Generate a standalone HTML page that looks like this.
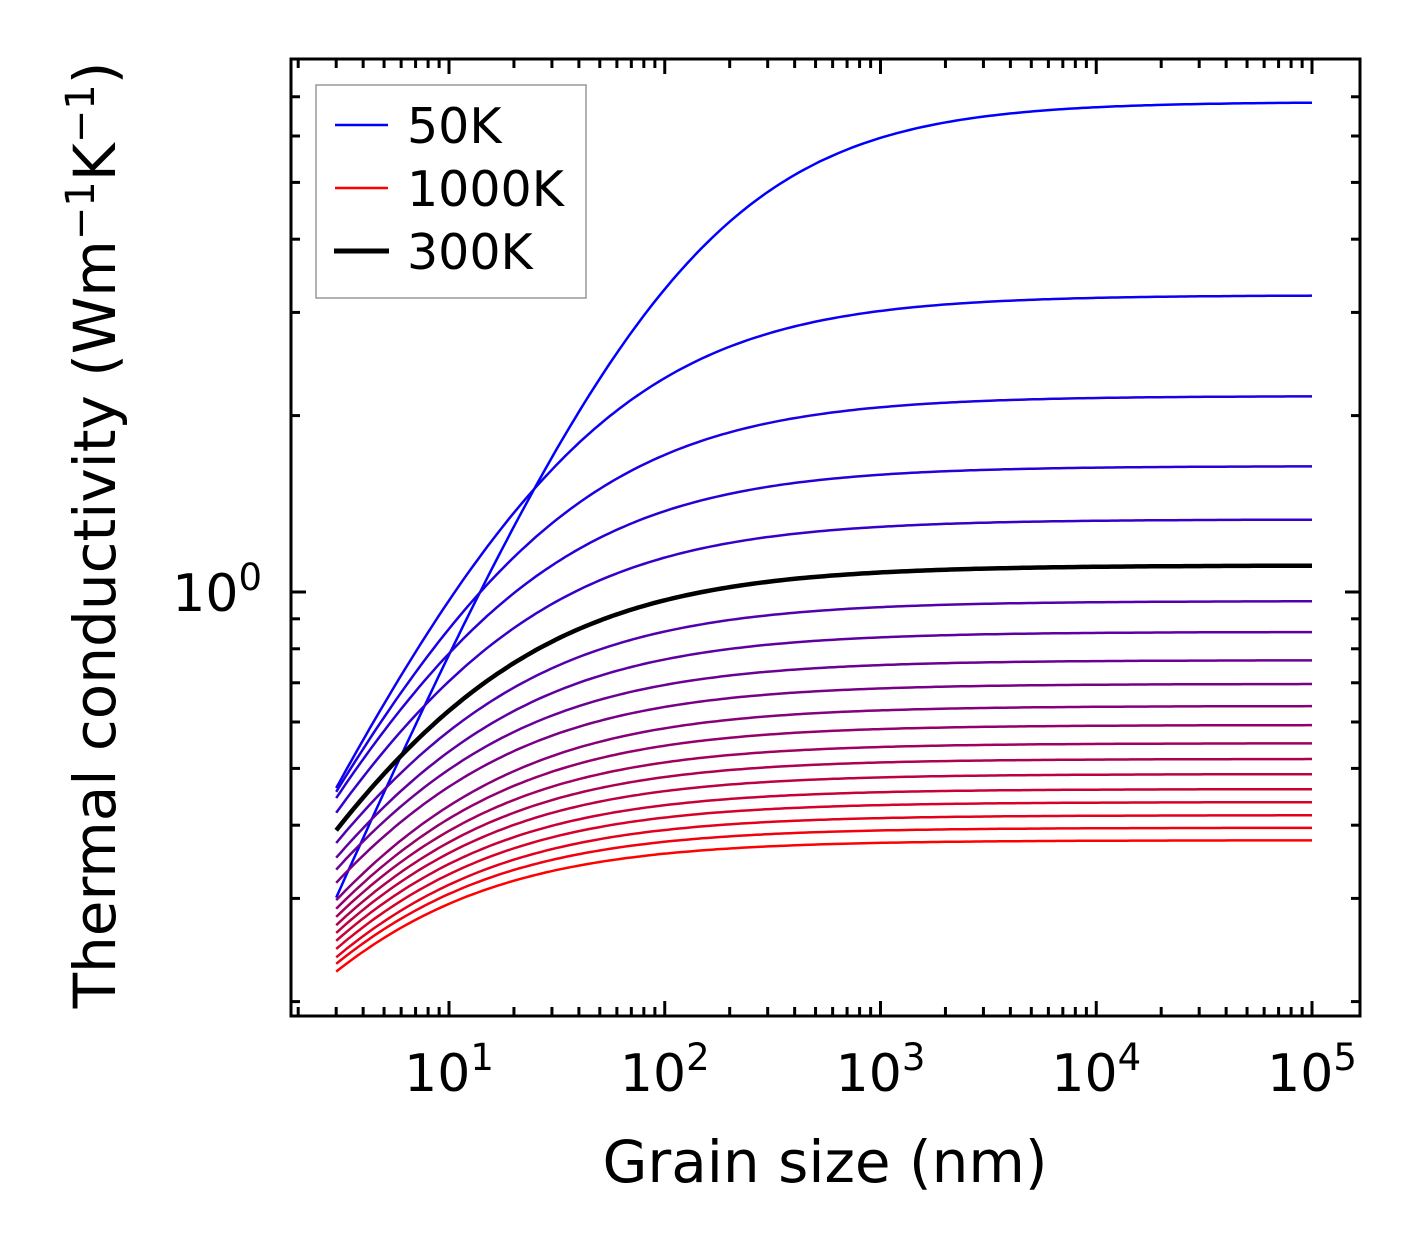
<!DOCTYPE html>
<html><head><meta charset="utf-8"><style>
html,body{margin:0;padding:0;background:#fff;}
svg{display:block;font-family:"DejaVu Sans","Liberation Sans",sans-serif;}
</style></head><body>
<svg id="chart" width="1421" height="1254" viewBox="0 0 1421 1254" xmlns="http://www.w3.org/2000/svg">
<g id="curves"></g>
<g id="ticks"></g>
<rect x="291" y="59" width="1069" height="957" fill="none" stroke="#000" stroke-width="3"/>
<g id="xlabels" font-size="52" text-anchor="middle"></g>
<text x="262" y="611" font-size="52" text-anchor="end">10<tspan dy="-21" font-size="37">0</tspan></text>
<text x="825" y="1182" font-size="58" text-anchor="middle">Grain size (nm)</text>
<text transform="translate(115,535) rotate(-90)" font-size="58" text-anchor="middle">Thermal conductivity (Wm<tspan dy="-21" font-size="40">−1</tspan><tspan dy="21">K</tspan><tspan dy="-21" font-size="40">−1</tspan><tspan dy="21">)</tspan></text>
<g>
<rect x="316" y="85" width="270" height="213" fill="#fff" stroke="#999" stroke-width="1.5"/>
<line x1="335" y1="125" x2="388" y2="125" stroke="#0000ff" stroke-width="2.5"/>
<text x="407" y="143" font-size="49">50K</text>
<line x1="335" y1="188" x2="388" y2="188" stroke="#ff0000" stroke-width="2.5"/>
<text x="407" y="206" font-size="49">1000K</text>
<line x1="334" y1="251" x2="389" y2="251" stroke="#000" stroke-width="5"/>
<text x="407" y="269" font-size="49">300K</text>
</g>
</svg>
<script>
const temps = [50,100,150,200,250,300,350,400,450,500,550,600,650,700,750,800,850,900,950,1000];
const kBulk = [6.86,3.21,2.16,1.64,1.33,1.11,0.965,0.855,0.765,0.697,0.639,0.593,0.552,0.519,0.489,0.461,0.438,0.416,0.396,0.377];
const kAt3nm = [0.301,0.463,0.456,0.445,0.420,0.392,0.373,0.352,0.336,0.319,0.298,0.288,0.279,0.270,0.262,0.254,0.246,0.238,0.232,0.225];
const shapeExp = [0.855,0.78,0.76,0.75,0.74,0.72,0.72,0.72,0.72,0.72,0.72,0.72,0.72,0.72,0.72,0.72,0.72,0.72,0.72,0.72];
const xTickExps = [1,2,3,4,5];
const xMin = 3, xMax = 1e5;

const NS = "http://www.w3.org/2000/svg";
function xs(v){ return 449 + (Math.log10(v) - 1) * 215.75; }
function ys(v){ return 592 - Math.log10(v) * 586; }
const X0 = 291, X1 = 1360, Y0 = 59, Y1 = 1016;

const cg = document.getElementById('curves');
const order = temps.map((t,i)=>i).filter(i=>temps[i]!==300).concat(temps.indexOf(300));
order.forEach(i=>{
  const n = temps.length - 1;
  const f = i / n;
  const r = Math.round(255*f), b = Math.round(255*(1-f));
  const ratio = kBulk[i]/kAt3nm[i] - 1;
  const L0 = 3 * Math.pow(ratio, 1/shapeExp[i]);
  let d = "";
  for (let s=0; s<=200; s++){
    const L = Math.pow(10, Math.log10(xMin) + (Math.log10(xMax)-Math.log10(xMin))*s/200);
    const k = kBulk[i] / (1 + Math.pow(L0/L, shapeExp[i]));
    d += (s?"L":"M") + xs(L).toFixed(1) + " " + ys(k).toFixed(1);
  }
  const p = document.createElementNS(NS,'path');
  p.setAttribute('d', d);
  p.setAttribute('fill','none');
  const is300 = temps[i]===300;
  p.setAttribute('stroke', is300 ? '#000' : `rgb(${r},0,${b})`);
  p.setAttribute('stroke-width', is300 ? 4.5 : 2.5);
  
  
  cg.appendChild(p);
});

const tg = document.getElementById('ticks');
function tick(x1,y1,x2,y2){
  const l = document.createElementNS(NS,'line');
  l.setAttribute('x1',x1);l.setAttribute('y1',y1);l.setAttribute('x2',x2);l.setAttribute('y2',y2);
  l.setAttribute('stroke','#000');l.setAttribute('stroke-width',3);
  
  
  tg.appendChild(l);
}
for (let e=0; e<=5; e++){
  for (let m=1; m<=9; m++){
    const v = m*Math.pow(10,e);
    const x = xs(v);
    if (x < X0+3 || x > X1-3) continue;
    const len = m===1 ? 15 : 9;
    tick(x, Y1, x, Y1-len); tick(x, Y0, x, Y0+len);
  }
}
for (let e=-1; e<=0; e++){
  for (let m=1; m<=9; m++){
    const v = m*Math.pow(10,e);
    const y = ys(v);
    if (y < Y0+8 || y > Y1-3) continue;
    const len = m===1 ? 15 : 9;
    tick(X0, y, X0+len, y); tick(X1, y, X1-len, y);
  }
}
const xl = document.getElementById('xlabels');
xTickExps.forEach(e=>{
  const t = document.createElementNS(NS,'text');
  t.setAttribute('x', xs(Math.pow(10,e)));
  t.setAttribute('y', 1091);
  t.innerHTML = '10<tspan dy="-21" font-size="37">' + e + '</tspan>';
  
  
  xl.appendChild(t);
});
</script>
</body></html>
